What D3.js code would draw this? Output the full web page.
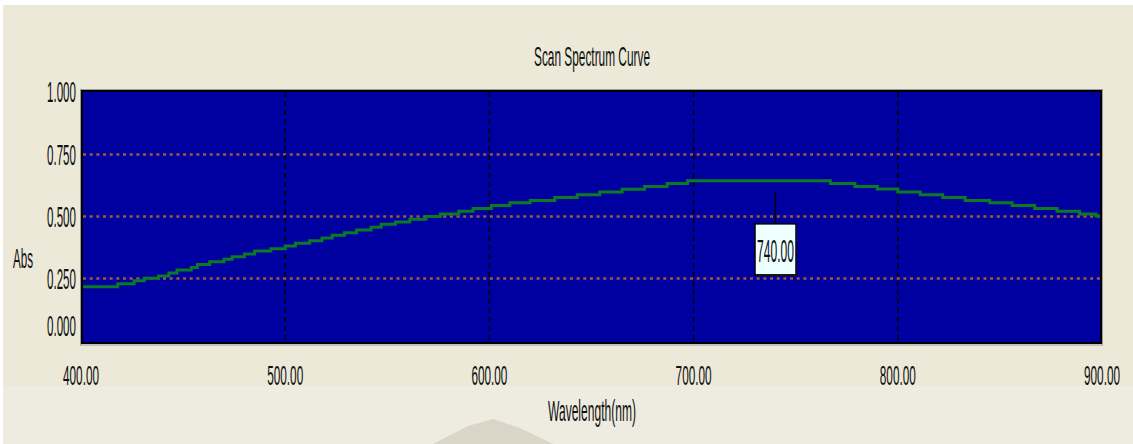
<!DOCTYPE html>
<html>
<head>
<meta charset="utf-8">
<script src="https://cdn.jsdelivr.net/npm/d3@7"></script>
<style>
  html, body { margin: 0; padding: 0; background: #ECE9D8; }
  svg { display: block; }
  text { font-family: "Liberation Sans", Arial, sans-serif; fill: #111; }
</style>
</head>
<body>
<svg id="chart" width="1133" height="444"></svg>
<script>
// Scan data: wavelength (nm) where each reading step begins, and absorbance
const wavelengths = [400, 418, 426, 431, 438, 443, 447, 454, 457, 463, 470, 474, 480, 485, 493,
  500, 505, 512, 518, 523, 529, 535, 542, 547, 554, 561, 569, 576, 585, 592, 601, 610, 620,
  632, 643, 654, 665, 676, 687, 697, 709, 767, 779, 790, 800, 811, 822, 833, 845, 856, 867,
  878, 889, 897, 900];
const absorbance = [0.216, 0.228, 0.240, 0.250, 0.259, 0.271, 0.283, 0.293, 0.305, 0.316, 0.326,
  0.336, 0.348, 0.360, 0.369, 0.380, 0.391, 0.401, 0.412, 0.423, 0.433, 0.444, 0.455, 0.467,
  0.476, 0.487, 0.498, 0.508, 0.519, 0.530, 0.542, 0.553, 0.562, 0.574, 0.585, 0.596, 0.607,
  0.618, 0.630, 0.641, 0.641, 0.630, 0.618, 0.608, 0.596, 0.585, 0.574, 0.562, 0.553, 0.542,
  0.530, 0.519, 0.508, 0.501, 0.501];
const xTicks = [400, 500, 600, 700, 800, 900];
const yTicks = [0, 0.25, 0.5, 0.75, 1];
const xGridTicks = [500, 600, 700, 800];
const yGridTicks = [0.25, 0.5, 0.75];
const markerWavelength = 740;
const titleText = "Scan Spectrum Curve";
const xTitle = "Wavelength(nm)";
const yTitle = "Abs";

const svg = d3.select("#chart");
const W = 1133, H = 444;

// Narrow, tall instrument-style text: scale a 16px glyph run to a target width and cap height.
function tallText(parent, x, baseline, str, anchor, width, capH) {
  const grp = parent.append("g");
  const t = grp.append("text").attr("font-size", 16).attr("text-anchor", anchor).text(str);
  const natural = t.node().getComputedTextLength();
  const sx = width / natural;
  const sy = capH / (0.729 * 16);
  grp.attr("transform", `translate(${x},${baseline}) scale(${sx},${sy})`);
  return grp;
}

// window background with a thin white margin at the top and left
svg.append("rect").attr("width", W).attr("height", H).attr("fill", "#FFFFFF");
svg.append("rect").attr("x", 3).attr("y", 5).attr("width", W - 3).attr("height", H - 5)
  .attr("fill", "#ECE9D8");
svg.append("rect").attr("x", 3).attr("y", 386).attr("width", W - 3).attr("height", H - 386)
  .attr("fill", "#EEECE0");
// faint backdrop shape under the axis title
svg.append("path").attr("d", "M433,444 L468,426 L493,419 L520,428 L553,444 Z")
  .attr("fill", "#D9D6C7");

const x = d3.scaleLinear().domain([400, 900]).range([81, 1102]);
const y = d3.scaleLinear().domain([0, 1]).range([340.6, 91.4]);

const plot = { left: 83, top: 92, right: 1100, bottom: 342 };

// plot panel
svg.append("rect").attr("x", 80.5).attr("y", 89.5).attr("width", 1022).attr("height", 255.5)
  .attr("fill", "none").attr("stroke", "#9A9A9A").attr("stroke-width", 1);
svg.append("rect").attr("x", 82).attr("y", 91).attr("width", 1019).attr("height", 252)
  .attr("fill", "#0000A0").attr("stroke", "#000000").attr("stroke-width", 2);

svg.append("clipPath").attr("id", "clip").append("rect")
  .attr("x", plot.left).attr("y", plot.top)
  .attr("width", plot.right - plot.left).attr("height", plot.bottom - plot.top);
const g = svg.append("g").attr("clip-path", "url(#clip)");

// grid
g.selectAll("line.hgrid").data(yGridTicks).join("line")
  .attr("class", "hgrid")
  .attr("x1", plot.left).attr("x2", plot.right)
  .attr("y1", d => Math.round(y(d)) + 0.5).attr("y2", d => Math.round(y(d)) + 0.5)
  .attr("stroke", "#A4583F").attr("stroke-width", 2.5)
  .attr("stroke-dasharray", "3,3.67");
g.selectAll("line.vgrid").data(xGridTicks).join("line")
  .attr("class", "vgrid")
  .attr("x1", d => x(d)).attr("x2", d => x(d))
  .attr("y1", plot.top).attr("y2", plot.bottom)
  .attr("stroke", "#000000").attr("stroke-width", 1.5)
  .attr("stroke-dasharray", "5,4");

// spectrum curve (stepped readings)
const pts = wavelengths.map((w, i) => [w, absorbance[i]]);
const line = d3.line().x(d => x(d[0])).y(d => y(d[1])).curve(d3.curveStepAfter);
g.append("path").datum(pts).attr("d", line)
  .attr("fill", "none").attr("stroke", "#0A7A24").attr("stroke-width", 3);

// cursor marker at the selected wavelength
const idx = d3.bisectRight(wavelengths, markerWavelength) - 1;
const markerAbs = absorbance[idx];
const mx = Math.round(x(markerWavelength)) + 0.5;
const my = y(markerAbs);
const boxW = 41, boxH = 51, boxTop = my + 43;
svg.append("line").attr("x1", mx).attr("x2", mx).attr("y1", my + 11).attr("y2", boxTop)
  .attr("stroke", "#000").attr("stroke-width", 1.5);
svg.append("rect").attr("x", mx - boxW / 2 + 1).attr("y", boxTop + 1)
  .attr("width", boxW).attr("height", boxH).attr("fill", "#404040");
svg.append("rect").attr("x", mx - boxW / 2).attr("y", boxTop)
  .attr("width", boxW).attr("height", boxH)
  .attr("fill", "#EEFFFF").attr("stroke", "#000").attr("stroke-width", 1.5);
tallText(svg, mx, boxTop + 38, d3.format(".2f")(markerWavelength), "middle", 37, 23);

// axis labels
const fx = d3.format(".2f"), fy = d3.format(".3f");
xTicks.forEach(d => tallText(svg, x(d), 385, fx(d), "middle", 36, 20));
yTicks.forEach(d => tallText(svg, 76, Math.min(y(d) + 11, 336), fy(d), "end", 29, 21));

// titles
tallText(svg, 592, 66, titleText, "middle", 116, 20);
tallText(svg, 592, 421, xTitle, "middle", 88, 22);
tallText(svg, 13, 268, yTitle, "start", 20, 20);
</script>
</body>
</html>
